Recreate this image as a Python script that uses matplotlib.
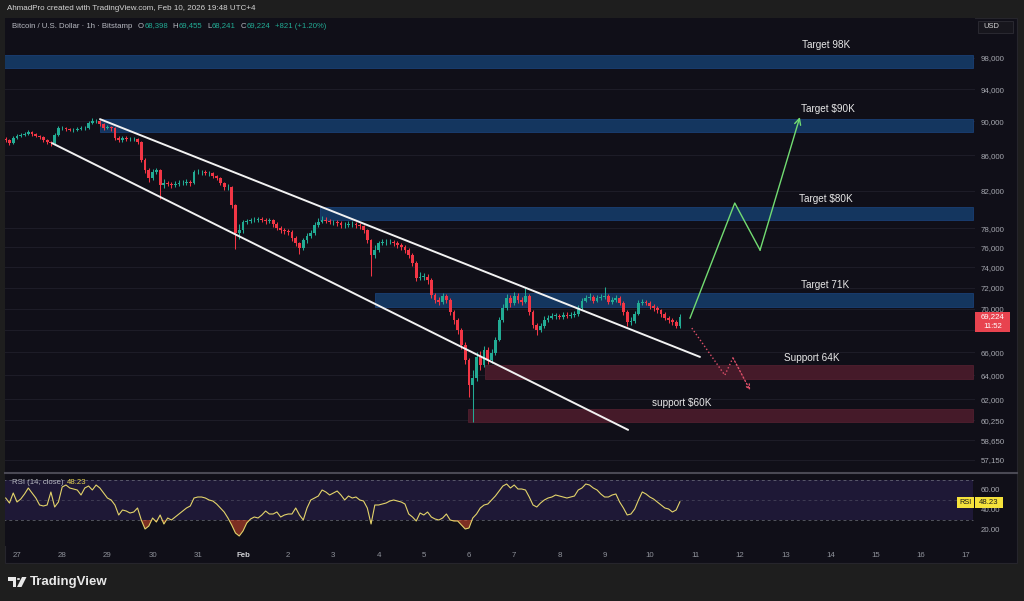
import numpy as np
import matplotlib
matplotlib.use('Agg')
import matplotlib.pyplot as plt
from matplotlib.patches import Rectangle, Polygon, Circle
from matplotlib.ticker import NullLocator, FixedLocator, FixedFormatter

plt.rcParams['font.family'] = ['Liberation Sans', 'DejaVu Sans']

# ---------------- data (2h candles, day 0 = Jan 27 00:00) ----------------
first_open = 87900
closes = [87790, 87440, 88030, 88260, 88380, 88500, 88730, 88500, 88260, 88150,
          87790, 87560, 87440, 88380, 89210, 89210, 89090, 88970, 88970, 89090,
          89210, 89210, 89810, 90050, 90050, 89690, 89210, 89330, 89210, 88030,
          87790, 88030, 87910, 87910, 87910, 87560, 85460, 84320, 83420, 84100,
          84320, 82640, 82860, 82750, 82640, 82750, 82860, 82860, 82970, 82860,
          84100, 84100, 84100, 83990, 83990, 83650, 83420, 82860, 82420, 82420,
          80450, 77490, 77800, 78640, 78740, 78850, 78850, 78960, 78850, 78740,
          78850, 78430, 78010, 77800, 77700, 77590, 76970, 76450, 75940, 76760,
          77180, 77490, 78320, 78640, 78850, 78740, 78640, 78640, 78530, 78320,
          78320, 78430, 78430, 78320, 78220, 77800, 76760, 75240, 75740, 76450,
          76560, 76560, 76560, 76450, 76250, 76040, 75740, 75240, 74430, 72960,
          73050, 73050, 72760, 71310, 70830, 70640, 71210, 70830, 69700, 68960,
          68040, 66690, 65360, 63210, 63800, 65620, 64920, 66240, 65360, 65970,
          67130, 68960, 70080, 71020, 70550, 71210, 70830, 70640, 71210, 69700,
          68500, 68040, 68410, 68960, 69150, 69330, 69330, 69240, 69420, 69330,
          69420, 69520, 70080, 70740, 71020, 71120, 70740, 71020, 71120, 71210,
          70640, 70830, 71020, 70550, 69700, 68780, 68870, 69520, 70550, 70640,
          70550, 70260, 70080, 69890, 69520, 69150, 68960, 68780, 68398, 69224]
highs = [88150, 87950, 88250, 88450, 88600, 88700, 88950, 88850, 88600, 88400,
         88250, 87900, 87700, 88600, 89400, 89450, 89350, 89250, 89200, 89300,
         89400, 89500, 90000, 90400, 90300, 90200, 89850, 89600, 89500, 89300,
         88300, 88250, 88200, 88150, 88100, 88050, 87700, 85700, 84500, 84400,
         84550, 84400, 83300, 83100, 83000, 83050, 83150, 83200, 83300, 83200,
         84300, 84400, 84350, 84300, 84250, 84150, 83800, 83550, 83000, 82700,
         82550, 80600, 78400, 78900, 79000, 79100, 79150, 79200, 79150, 79050,
         79100, 78950, 78600, 78200, 78050, 77950, 77800, 77150, 76600, 77000,
         77450, 77800, 78600, 79100, 79300, 79200, 79000, 78900, 78850, 78700,
         78600, 78700, 78700, 78650, 78500, 78350, 77950, 76900, 76200, 76700,
         76900, 76850, 76900, 76800, 76650, 76450, 76250, 75900, 75400, 74600,
         73500, 73400, 73300, 72900, 71500, 71100, 71500, 71400, 71000, 69900,
         69100, 68200, 66900, 65500, 64500, 66000, 66100, 66600, 66500, 66300,
         67400, 69200, 70400, 71400, 71300, 71600, 71500, 71100, 71980, 71400,
         69900, 68700, 68700, 69300, 69400, 69600, 69600, 69500, 69700, 69650,
         69700, 69800, 70300, 71000, 71300, 71500, 71300, 71300, 71400, 72100,
         71400, 71100, 71300, 71200, 70700, 69900, 69200, 69800, 70800, 70900,
         70850, 70700, 70400, 70250, 70000, 69650, 69300, 69100, 68900, 69455]
lows = [87500, 87200, 87350, 87900, 88100, 88200, 88350, 88300, 88100, 87950,
        87600, 87300, 87100, 87300, 88200, 88950, 88900, 88800, 88750, 88800,
        88950, 89000, 89100, 89700, 89800, 89500, 89000, 89050, 88900, 87800,
        87500, 87600, 87700, 87700, 87650, 87350, 85200, 84000, 83000, 83200,
        83900, 81100, 82300, 82500, 82350, 82400, 82500, 82600, 82650, 82500,
        82700, 83850, 83800, 83750, 83700, 83400, 83150, 82600, 82100, 82100,
        80100, 75800, 76900, 77500, 78400, 78500, 78600, 78650, 78600, 78450,
        78500, 78150, 77750, 77500, 77400, 77300, 76700, 76100, 75340, 75700,
        76500, 77000, 77300, 78100, 78500, 78500, 78400, 78350, 78250, 78050,
        78050, 78100, 78150, 78050, 77950, 77500, 76400, 73150, 74900, 75500,
        76200, 76250, 76300, 76150, 75950, 75750, 75400, 74900, 74100, 72600,
        72700, 72700, 72400, 71000, 70500, 70300, 70400, 70500, 69400, 68600,
        67700, 66300, 65000, 62200, 60100, 63500, 64500, 64700, 65000, 65100,
        65800, 67000, 68800, 69900, 70200, 70300, 70500, 70300, 70500, 69400,
        68200, 67600, 67800, 68200, 68800, 69000, 69050, 69000, 69050, 69100,
        69100, 69200, 69350, 69900, 70600, 70800, 70500, 70600, 70800, 70900,
        70400, 70400, 70600, 70300, 69400, 68400, 68500, 68700, 69400, 70300,
        70300, 70000, 69800, 69600, 69250, 68900, 68700, 68500, 68250, 68241]
rsi = [52, 47, 57, 48, 51, 56, 62, 57, 52, 45,
       44, 45, 58, 43, 48, 63, 65, 62, 61, 60,
       55, 62, 64, 60, 65, 62, 57, 52, 50, 45,
       35, 40, 39, 37, 38, 42, 30, 21, 24, 32,
       28, 35, 26, 32, 30, 33, 36, 39, 42, 44,
       52, 53, 53, 52, 50, 49, 46, 42, 38, 32,
       25, 17, 14, 19, 27, 31, 33, 32, 35, 39,
       36, 36, 38, 33, 35, 36, 36, 42, 35, 30,
       42, 50, 52, 54, 60, 58, 55, 57, 59, 55,
       50, 54, 52, 53, 50, 49, 42, 26, 45, 45,
       46, 47, 49, 50, 49, 48, 46, 36, 33, 29,
       37, 35, 38, 33, 31, 30, 32, 36, 30, 29,
       29, 25, 21, 22, 32, 36, 42, 45, 46, 50,
       54, 59, 64, 66, 62, 65, 61, 61, 60, 53,
       45, 43, 47, 50, 52, 53, 55, 54, 53, 52,
       53, 54, 60, 62, 66, 65, 62, 60, 56, 53,
       53, 55, 56, 48, 42, 35, 36, 41, 50, 58,
       56, 53, 51, 48, 45, 42, 41, 38, 40, 48.23]

price_ticks = [57150, 58650, 60250, 62000, 64000, 66000, 68000, 70000, 72000,
               74000, 76000, 78000, 82000, 86000, 90000, 94000, 98000]
hidden_tick = 68000  # covered by the last-price label in the reference
day_labels = ['27', '28', '29', '30', '31', 'Feb', '2', '3', '4', '5', '6', '7',
              '8', '9', '10', '11', '12', '13', '14', '15', '16', '17']

# zones: (start day, low, high, kind)
zone_start = [-0.3, 1.836, 6.70, 7.92, 10.35, 9.98]
zone_low = [96700, 88700, 78850, 70150, 63700, 60130]
zone_high = [98400, 90300, 80250, 71500, 64900, 61190]
zone_kind = ['blue', 'blue', 'blue', 'blue', 'red', 'red']

# channel lines
upper_days = [1.836, 15.11]
upper_prices = [90280, 65610]
lower_days = [0.774, 13.52]
lower_prices = [87420, 59490]

# projections
bull_days = [14.89, 15.88, 16.44, 17.32]
bull_prices = [69120, 80660, 75730, 90530]
bear_days = [14.93, 15.66, 15.84, 16.22]
bear_prices = [68200, 64020, 65530, 62740]

label_texts = ['Target 98K', 'Target $90K', 'Target $80K', 'Target 71K', 'Support 64K', 'support $60K']
label_days = [17.90, 17.94, 17.90, 17.88, 17.59, 14.71]
label_prices = [99700, 91500, 81090, 72250, 65530, 61680]

legend_parts = [('Bitcoin / U.S. Dollar · 1h · Bitstamp', 'grey', 5),
                ('O', 'grey', 0), ('68,398', 'green', 4),
                ('H', 'grey', 0), ('69,455', 'green', 4),
                ('L', 'grey', 0), ('68,241', 'green', 4),
                ('C', 'grey', 0), ('69,224', 'green', 4),
                ('+821 (+1.20%)', 'green', 0)]

# ---------------- figure ----------------
W, H = 1024, 601
fig = plt.figure(figsize=(W / 100, H / 100), dpi=100)
fig.patch.set_facecolor('#1e1e1e')
BG = '#100f18'


def fx(px):
    return px / W


def fy(py):
    return 1 - py / H


def prect(x0, y0, x1, y1, **kw):
    r = Rectangle((fx(x0), fy(y1)), fx(x1) - fx(x0), fy(y0) - fy(y1),
                  transform=fig.transFigure, **kw)
    fig.add_artist(r)
    return r


prect(5, 18, 1017, 563, facecolor=BG, edgecolor='#26252c', lw=0.8, zorder=-10)

ax = fig.add_axes([fx(5), fy(472), fx(975) - fx(5), fy(18) - fy(472)])
ax.set_facecolor(BG)
ax.set_yscale('log')
ax.set_ylim(56218, 103407)
ax.set_xlim(-0.2655, 21.195)
for s in ax.spines.values():
    s.set_visible(False)
ax.yaxis.tick_right()
ax.yaxis.set_major_locator(FixedLocator(price_ticks))
ax.yaxis.set_major_formatter(FixedFormatter(['' if v == hidden_tick else f'{v:,}' for v in price_ticks]))
ax.yaxis.set_minor_locator(NullLocator())
ax.tick_params(axis='y', which='both', length=0, pad=4.3, labelsize=5.7, labelcolor='#a6a8b0')
ax.set_xticks([])
for v in price_ticks:
    ax.axhline(v, color='#1d1c27', lw=0.8, zorder=0)

# zones
for s0, lo, hi, k in zip(zone_start, zone_low, zone_high, zone_kind):
    fc = '#14365f' if k == 'blue' else '#451a29'
    ec = '#1c4580' if k == 'blue' else '#582132'
    ax.add_patch(Rectangle((s0, lo), 21.15 - s0, hi - lo, facecolor=fc, edgecolor=ec,
                           lw=0.5, zorder=1))

# candles
n = len(closes)
t = -0.25 + np.arange(n) / 12.0
c = np.array(closes, float)
o = np.array([first_open] + closes[:-1], float)
hi_ = np.array(highs, float)
lo_ = np.array(lows, float)
up = c >= o
cols = np.where(up, '#22ab94', '#f23645')
ax.vlines(t, lo_, hi_, colors=cols, lw=0.75, zorder=3)
bot = np.minimum(o, c)
hgt = np.maximum(np.abs(c - o), 40)
ax.bar(t, hgt, bottom=bot, width=0.062, color=cols, lw=0, zorder=4)

# channel
ax.plot(upper_days, upper_prices, color='#f2f2f2', lw=1.4, zorder=5, solid_capstyle='round')
ax.plot(lower_days, lower_prices, color='#f2f2f2', lw=1.4, zorder=5, solid_capstyle='round')

# projections
green = '#72dc72'
ax.plot(bull_days[:3], bull_prices[:3], color=green, lw=1.0, zorder=6)
ax.annotate('', xy=(bull_days[3], bull_prices[3]), xytext=(bull_days[2], bull_prices[2]),
            arrowprops=dict(arrowstyle='->', color=green, lw=1.0, shrinkA=0, shrinkB=0,
                            mutation_scale=11), zorder=6)
red = '#e0506a'
ax.plot(bear_days[:3], bear_prices[:3], color=red, lw=1.0, ls=(0, (1, 1.6)), zorder=6)
ax.annotate('', xy=(bear_days[3], bear_prices[3]), xytext=(bear_days[2], bear_prices[2]),
            arrowprops=dict(arrowstyle='->', color=red, lw=1.0, shrinkA=0, shrinkB=0,
                            linestyle=(0, (1, 1.6)), mutation_scale=8), zorder=6)

for txt, d, p in zip(label_texts, label_days, label_prices):
    ax.text(d, p, txt, color='#e8e8e8', fontsize=7.2, ha='center', va='center', zorder=7)

# ---------------- RSI pane ----------------
rax = fig.add_axes([fx(5), fy(546), fx(975) - fx(5), fy(473) - fy(546)])
rax.set_facecolor(BG)
rax.set_xlim(-0.2655, 21.195)
rax.set_ylim(4, 77)
for s in rax.spines.values():
    s.set_visible(False)
rax.add_patch(Rectangle((-0.3, 30), 21.45, 40, facecolor='#2a2050', alpha=0.55, lw=0, zorder=0))
for lvl, a in [(70, 0.55), (50, 0.3), (30, 0.55)]:
    rax.plot([-0.3, 21.15], [lvl, lvl], color='#8a8d96', lw=0.7, alpha=a, ls=(0, (3, 3)), zorder=1)
r = np.array(rsi, float)
rax.fill_between(t, r, 30, where=r < 30, interpolate=True, color='#d84a2c', alpha=0.55, lw=0, zorder=2)
rax.plot(t, r, color='#e3d36a', lw=0.8, zorder=3)
rax.yaxis.tick_right()
rax.set_yticks([20, 40, 60])
rax.set_yticklabels(['20.00', '40.00', '60.00'])
rax.tick_params(axis='y', length=0, pad=4.3, labelsize=5.7, labelcolor='#a6a8b0')
rax.set_xticks(range(len(day_labels)))
rax.set_xticklabels(day_labels)
rax.tick_params(axis='x', length=0, pad=4.0, labelsize=5.7, labelcolor='#8f929a')
for lab in rax.get_xticklabels():
    if lab.get_text() == 'Feb':
        lab.set_color('#cfd0d4')
        lab.set_fontweight('bold')

# pane separator
fig.add_artist(plt.Line2D([fx(5), fx(1017)], [fy(472.5), fy(472.5)], transform=fig.transFigure,
                          color='#4a4954', lw=1.5, zorder=8))

# ---------------- texts / labels ----------------
fig.text(fx(7), fy(9), 'AhmadPro created with TradingView.com, Feb 10, 2026 19:48 UTC+4',
         color='#d4d4d4', fontsize=5.75, ha='left', va='center')

renderer = fig.canvas.get_renderer()
colmap = {'grey': '#b8bac2', 'green': '#22ab94'}
xcur = 12.0
for s, ck, gap in legend_parts:
    tt = fig.text(fx(xcur), fy(26), s, color=colmap[ck], fontsize=5.6, ha='left', va='center')
    bb = tt.get_window_extent(renderer)
    xcur += bb.width + 0.6 + gap

fig.text(fx(12), fy(483), 'RSI (14, close)', color='#b8bac2', fontsize=5.6, ha='left', va='center')
fig.text(fx(67), fy(483), '48.23', color='#e6d44e', fontsize=5.6, ha='left', va='center')

# USD box
prect(978, 21, 1013, 33, facecolor='#17161d', edgecolor='#2e2d35', lw=0.6, zorder=9)
fig.text(fx(983), fy(27), 'USD', color='#d4d4d4', fontsize=5.4, ha='left', va='center', zorder=10)

# last price label
prect(975, 312, 1010, 332, facecolor='#e8434f', lw=0, zorder=9)
fig.text(fx(993), fy(316.5), '69,224', color='white', fontsize=5.6, ha='center', va='center', zorder=10)
fig.text(fx(993), fy(327), '11:52', color='white', fontsize=5.6, ha='center', va='center', zorder=10)

# RSI labels
prect(957, 497, 973.5, 508, facecolor='#f5e23b', lw=0, zorder=9)
prect(974.5, 497, 1003, 508, facecolor='#f5e23b', lw=0, zorder=9)
fig.text(fx(965), fy(502.5), 'RSI', color='#1a1a1a', fontsize=5.3, ha='center', va='center', zorder=10)
fig.text(fx(989), fy(502.5), '48.23', color='#1a1a1a', fontsize=5.6, ha='center', va='center', zorder=10)

# TradingView logo
lc = '#e8e8e8'
fig.add_artist(Polygon([(fx(8), fy(577)), (fx(16), fy(577)), (fx(16), fy(587)), (fx(12.5), fy(587)),
                        (fx(12.5), fy(580.5)), (fx(8), fy(580.5))], closed=True,
                       transform=fig.transFigure, facecolor=lc, lw=0))
fig.add_artist(Circle((fx(18.5), fy(579)), 1.6 / W, transform=fig.transFigure, facecolor=lc, lw=0))
fig.add_artist(Polygon([(fx(22), fy(577)), (fx(26.5), fy(577)), (fx(21.5), fy(587)), (fx(17), fy(587))],
                       closed=True, transform=fig.transFigure, facecolor=lc, lw=0))
fig.text(fx(30), fy(582), 'TradingView', color=lc, fontsize=9.5, ha='left', va='center',
         fontweight='bold')

fig.savefig('out.png', dpi=100, facecolor=fig.get_facecolor())
